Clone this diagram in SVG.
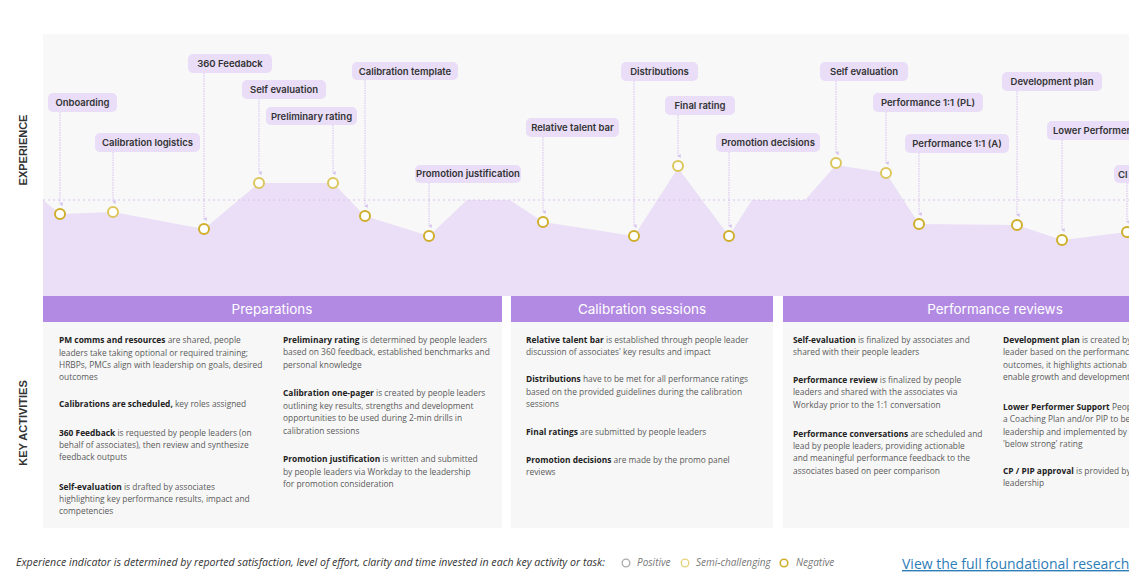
<svg xmlns="http://www.w3.org/2000/svg" width="1129" height="586" viewBox="0 0 1129 586">
<style>
.pill{fill:#e9ddf7}
.pt{font-family:Inter,"Noto Sans",sans-serif;font-size:9.5px;font-weight:600;fill:#333;text-anchor:middle}
.pts{font-family:Inter,"Noto Sans",sans-serif;font-size:9.5px;font-weight:600;fill:#333;text-anchor:start}
.conn{stroke:#d6c2ef;stroke-width:1;stroke-dasharray:1.5 1;fill:none}
.neg{fill:#fff;stroke:#cfae2c;stroke-width:2}
.semi{fill:#fff;stroke:#dcc65c;stroke-width:2}
.hdr{fill:#b28ae3}
.ht{font-family:Inter,"Noto Sans",sans-serif;font-size:13.5px;fill:#fff;text-anchor:middle}
.panel{fill:#f7f7f7}
.bt{font-family:"Open Sans","Noto Sans",sans-serif;font-size:8.4px;fill:#5a5a5a}
.b{font-weight:700;fill:#222}
.vl{font-family:"Liberation Sans",Arial,sans-serif;font-size:11px;font-weight:700;fill:#333;text-anchor:middle}
.lg{font-family:"Open Sans","Noto Sans",sans-serif;font-size:10.6px;font-style:italic;fill:#333}
.lg2{font-family:"Open Sans","Noto Sans",sans-serif;font-size:10px;font-style:italic;fill:#777}
</style>
<defs>
<marker id="ah" viewBox="0 0 6 6" refX="3" refY="5" markerWidth="4" markerHeight="4" orient="auto-start-reverse" markerUnits="userSpaceOnUse">
<path d="M0,1 L6,1 L3,6 Z" fill="#d6c2ef"/>
</marker>
</defs>
<rect width="1129" height="586" fill="#fff"/>
<rect x="43" y="34" width="1086" height="262" fill="#f8f8f8"/>
<polygon points="43,200 60,214 113,212 204,229 259,183 333,183 365,216 429,236 467,200 510,200 543,222 634,236 678,168 729,236 752,200 805,200 836,165 886,173 919,224 1017,225 1062,240 1127,232 1129,232 1129,296 43,296" fill="#eadff6"/>
<line x1="43" y1="200" x2="1129" y2="200" stroke="#dcc0ee" stroke-width="1" stroke-dasharray="2 3"/>
<text class="vl" transform="translate(27,150) rotate(-90)">EXPERIENCE</text>
<text class="vl" transform="translate(27,423) rotate(-90)" font-size="10.5">KEY ACTIVITIES</text>
<g id="connectors">
<line class="conn" x1="60" y1="112" x2="60" y2="204" marker-end="url(#ah)"/>
<line class="conn" x1="113" y1="152" x2="113" y2="202" marker-end="url(#ah)"/>
<line class="conn" x1="204" y1="73" x2="204" y2="219" marker-end="url(#ah)"/>
<line class="conn" x1="259" y1="98" x2="259" y2="173" marker-end="url(#ah)"/>
<line class="conn" x1="333" y1="125" x2="333" y2="173" marker-end="url(#ah)"/>
<line class="conn" x1="365" y1="80" x2="365" y2="206" marker-end="url(#ah)"/>
<line class="conn" x1="429" y1="183" x2="429" y2="226" marker-end="url(#ah)"/>
<line class="conn" x1="543" y1="137" x2="543" y2="212" marker-end="url(#ah)"/>
<line class="conn" x1="634" y1="81" x2="634" y2="226" marker-end="url(#ah)"/>
<line class="conn" x1="678" y1="115" x2="678" y2="156" marker-end="url(#ah)"/>
<line class="conn" x1="729" y1="152" x2="729" y2="226" marker-end="url(#ah)"/>
<line class="conn" x1="836" y1="81" x2="836" y2="153" marker-end="url(#ah)"/>
<line class="conn" x1="886" y1="112" x2="886" y2="163" marker-end="url(#ah)"/>
<line class="conn" x1="919" y1="153" x2="919" y2="214" marker-end="url(#ah)"/>
<line class="conn" x1="1017" y1="91" x2="1017" y2="215" marker-end="url(#ah)"/>
<line class="conn" x1="1062" y1="140" x2="1062" y2="230" marker-end="url(#ah)"/>
<line class="conn" x1="1127" y1="183" x2="1127" y2="222" marker-end="url(#ah)"/>
</g>
<g id="n-onboarding"><rect class="pill" x="48" y="93" width="69" height="19" rx="5"/><text class="pt" x="82.5" y="106">Onboarding</text><circle class="neg" cx="60" cy="214" r="5"/></g>
<g id="n-callog"><rect class="pill" x="95" y="133" width="105" height="19" rx="5"/><text class="pt" x="147.5" y="146">Calibration logistics</text><circle class="semi" cx="113" cy="212" r="5"/></g>
<g id="n-360"><rect class="pill" x="188" y="54" width="84" height="19" rx="5"/><text class="pt" x="230" y="67">360 Feedabck</text><circle class="neg" cx="204" cy="229" r="5"/></g>
<g id="n-selfeval1"><rect class="pill" x="242" y="80" width="84" height="19" rx="5"/><text class="pt" x="284" y="93">Self evaluation</text><circle class="semi" cx="259" cy="183" r="5"/></g>
<g id="n-prelim"><rect class="pill" x="266" y="107" width="91" height="18" rx="5"/><text class="pt" x="311.5" y="119.5">Preliminary rating</text><circle class="semi" cx="333" cy="183" r="5"/></g>
<g id="n-caltemplate"><rect class="pill" x="352" y="62" width="106" height="18" rx="5"/><text class="pt" x="405" y="74.5">Calibration template</text><circle class="neg" cx="365" cy="216" r="5"/></g>
<g id="n-promojust"><rect class="pill" x="415" y="165" width="106" height="18" rx="5"/><text class="pt" x="468" y="177" font-size="8.5">Promotion justification</text><circle class="neg" cx="429" cy="236" r="5"/></g>
<g id="n-reltalent"><rect class="pill" x="526" y="118" width="93" height="19" rx="5"/><text class="pt" x="572.5" y="131">Relative talent bar</text><circle class="neg" cx="543" cy="222" r="5"/></g>
<g id="n-distributions"><rect class="pill" x="621" y="62" width="77" height="19" rx="5"/><text class="pt" x="659.5" y="75">Distributions</text><circle class="neg" cx="634" cy="236" r="5"/></g>
<g id="n-finalrating"><rect class="pill" x="665" y="96" width="70" height="19" rx="5"/><text class="pt" x="700" y="109">Final rating</text><circle class="semi" cx="678" cy="166" r="5"/></g>
<g id="n-promodec"><rect class="pill" x="716" y="133" width="104" height="19" rx="5"/><text class="pt" x="768" y="146">Promotion decisions</text><circle class="neg" cx="729" cy="236" r="5"/></g>
<g id="n-selfeval2"><rect class="pill" x="820" y="62" width="88" height="19" rx="5"/><text class="pt" x="864" y="75">Self evaluation</text><circle class="semi" cx="836" cy="163" r="5"/></g>
<g id="n-perfpl"><rect class="pill" x="873" y="93" width="110" height="19" rx="5"/><text class="pt" x="928" y="106">Performance 1:1 (PL)</text><circle class="semi" cx="886" cy="173" r="5"/></g>
<g id="n-perfa"><rect class="pill" x="905" y="134" width="104" height="19" rx="5"/><text class="pt" x="957" y="147">Performance 1:1 (A)</text><circle class="neg" cx="919" cy="224" r="5"/></g>
<g id="n-devplan"><rect class="pill" x="1002" y="72" width="100" height="19" rx="5"/><text class="pt" x="1052" y="85">Development plan</text><circle class="neg" cx="1017" cy="225" r="5"/></g>
<g id="n-lowerperf"><rect class="pill" x="1047" y="121" width="100" height="19" rx="5"/><text class="pts" x="1053" y="134">Lower Performer</text><circle class="neg" cx="1062" cy="240" r="5"/></g>
<g id="n-cp"><rect class="pill" x="1114" y="165" width="40" height="18" rx="5"/><text class="pts" x="1118" y="177.5">Cl</text><circle class="neg" cx="1127" cy="232" r="5"/></g>
<rect x="502" y="296" width="9" height="232" fill="#fff"/>
<rect x="773" y="296" width="10" height="232" fill="#fff"/>
<g id="sec-preparations">
<rect class="hdr" x="43" y="296" width="459" height="26"/>
<text class="ht" x="272" y="314">Preparations</text>
<rect class="panel" x="43" y="322" width="459" height="206"/>
<text class="bt" x="59" y="343"><tspan class="b">PM comms and resources</tspan> are shared, people</text>
<text class="bt" x="59" y="355.5">leaders take taking optional or required training;</text>
<text class="bt" x="59" y="368">HRBPs, PMCs align with leadership on goals, desired</text>
<text class="bt" x="59" y="380.3">outcomes</text>
<text class="bt" x="59" y="407.3"><tspan class="b">Calibrations are scheduled,</tspan> key roles assigned</text>
<text class="bt" x="59" y="435.7"><tspan class="b">360 Feedback</tspan> is requested by people leaders (on</text>
<text class="bt" x="59" y="448">behalf of associates), then review and synthesize</text>
<text class="bt" x="59" y="460.3">feedback outputs</text>
<text class="bt" x="59" y="489.7"><tspan class="b">Self-evaluation</tspan> is drafted by associates</text>
<text class="bt" x="59" y="502.3">highlighting key performance results, impact and</text>
<text class="bt" x="59" y="514.3">competencies</text>
<text class="bt" x="283" y="343"><tspan class="b">Preliminary rating</tspan> is determined by people leaders</text>
<text class="bt" x="283" y="355.3">based on 360 feedback, established benchmarks and</text>
<text class="bt" x="283" y="367.7">personal knowledge</text>
<text class="bt" x="283" y="396.3"><tspan class="b">Calibration one-pager</tspan> is created by people leaders</text>
<text class="bt" x="283" y="408.7">outlining key results, strengths and development</text>
<text class="bt" x="283" y="421">opportunities to be used during 2-min drills in</text>
<text class="bt" x="283" y="433.7">calibration sessions</text>
<text class="bt" x="283" y="462"><tspan class="b">Promotion justification</tspan> is written and submitted</text>
<text class="bt" x="283" y="474.7">by people leaders via Workday to the leadership</text>
<text class="bt" x="283" y="487">for promotion consideration</text>
</g>
<g id="sec-calibration">
<rect class="hdr" x="511" y="296" width="262" height="26"/>
<text class="ht" x="642" y="314">Calibration sessions</text>
<rect class="panel" x="511" y="322" width="262" height="206"/>
<text class="bt" x="526" y="343"><tspan class="b">Relative talent bar</tspan> is established through people leader</text>
<text class="bt" x="526" y="355.3">discussion of associates' key results and impact</text>
<text class="bt" x="526" y="382.3"><tspan class="b">Distributions</tspan> have to be met for all performance ratings</text>
<text class="bt" x="526" y="394.7">based on the provided guidelines during the calibration</text>
<text class="bt" x="526" y="406.7">sessions</text>
<text class="bt" x="526" y="435.3"><tspan class="b">Final ratings</tspan> are submitted by people leaders</text>
<text class="bt" x="526" y="463"><tspan class="b">Promotion decisions</tspan> are made by the promo panel</text>
<text class="bt" x="526" y="475.3">reviews</text>
</g>
<g id="sec-performance">
<rect class="hdr" x="783" y="296" width="346" height="26"/>
<text class="ht" x="995" y="314">Performance reviews</text>
<rect class="panel" x="783" y="322" width="346" height="206"/>
<text class="bt" x="793" y="343"><tspan class="b">Self-evaluation</tspan> is finalized by associates and</text>
<text class="bt" x="793" y="355.3">shared with their people leaders</text>
<text class="bt" x="793" y="383"><tspan class="b">Performance review</tspan> is finalized by people</text>
<text class="bt" x="793" y="395.3">leaders and shared with the associates via</text>
<text class="bt" x="793" y="407.7">Workday prior to the 1:1 conversation</text>
<text class="bt" x="793" y="436.7"><tspan class="b">Performance conversations</tspan> are scheduled and</text>
<text class="bt" x="793" y="449">lead by people leaders, providing actionable</text>
<text class="bt" x="793" y="461.3">and meaningful performance feedback to the</text>
<text class="bt" x="793" y="473.7">associates based on peer comparison</text>
<text class="bt" x="1003" y="343"><tspan class="b">Development plan</tspan> is created by</text>
<text class="bt" x="1003" y="355.3">leader based on the performanc</text>
<text class="bt" x="1003" y="367.7">outcomes, it highlights actionab</text>
<text class="bt" x="1003" y="380">enable growth and development</text>
<text class="bt" x="1003" y="409.7"><tspan class="b">Lower Performer Support</tspan> Peop</text>
<text class="bt" x="1003" y="422">a Coaching Plan and/or PIP to be</text>
<text class="bt" x="1003" y="434.7">leadership and implemented by</text>
<text class="bt" x="1003" y="447.3">'below strong' rating</text>
<text class="bt" x="1003" y="473.7"><tspan class="b">CP / PIP approval</tspan> is provided by</text>
<text class="bt" x="1003" y="486.3">leadership</text>
</g>
<g id="legend">
<text class="lg" x="16" y="566">Experience indicator is determined by reported satisfaction, level of effort, clarity and time invested in each key activity or task:</text>
<circle cx="626" cy="563" r="3.8" fill="#fff" stroke="#aaa" stroke-width="1.3"/>
<text class="lg2" x="637" y="566">Positive</text>
<circle cx="685" cy="563" r="3.8" fill="#fff" stroke="#e2d27a" stroke-width="1.3"/>
<text class="lg2" x="696" y="566">Semi-challenging</text>
<circle cx="784" cy="563" r="3.8" fill="#fff" stroke="#cfae2c" stroke-width="1.6"/>
<text class="lg2" x="796" y="566">Negative</text>
<text x="902" y="569" font-family="'Open Sans','Noto Sans',sans-serif" font-size="14px" fill="#2d7db8" text-decoration="underline">View the full foundational research</text>
</g>
</svg>
